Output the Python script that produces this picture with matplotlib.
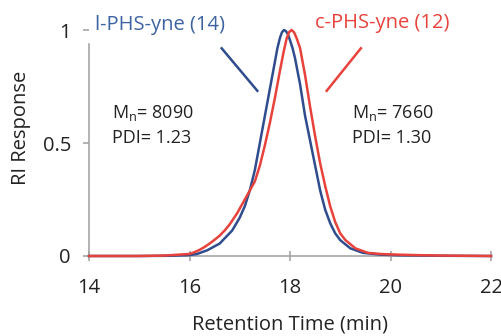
import matplotlib
matplotlib.use('Agg')
import matplotlib.pyplot as plt

plt.rcParams['font.family'] = ['Open Sans', 'DejaVu Sans']
plt.rcParams['mathtext.default'] = 'regular'

# l-PHS-yne (14), blue trace
l_time = [14.0, 15.0, 15.6, 16.0, 16.15, 16.35, 16.6, 16.85, 17.0, 17.1, 17.2, 17.3,
          17.4, 17.5, 17.6, 17.7, 17.75, 17.8, 17.84, 17.88, 17.92, 17.96, 18.0, 18.05,
          18.1, 18.2, 18.3, 18.4, 18.5, 18.6, 18.7, 18.8, 18.9, 19.0, 19.2, 19.45,
          19.8, 20.2, 21.0, 22.0]
l_resp = [0.0, 0.0, 0.001, 0.004, 0.009, 0.025, 0.055, 0.113, 0.17, 0.22, 0.29, 0.38,
          0.50, 0.62, 0.74, 0.86, 0.92, 0.965, 0.99, 1.0, 0.995, 0.98, 0.955, 0.92,
          0.875, 0.76, 0.62, 0.51, 0.40, 0.29, 0.205, 0.145, 0.10, 0.07, 0.034, 0.014,
          0.006, 0.003, 0.001, 0.0]

# c-PHS-yne (12), red trace
c_time = [14.0, 15.0, 15.5, 16.0, 16.1, 16.2, 16.3, 16.4, 16.5, 16.6, 16.7, 16.8,
          16.95, 17.1, 17.2, 17.3, 17.4, 17.5, 17.6, 17.7, 17.8, 17.87, 17.93, 17.98,
          18.03, 18.08, 18.13, 18.2, 18.3, 18.4, 18.5, 18.6, 18.7, 18.8, 18.9, 19.0,
          19.1, 19.3, 19.55, 19.8, 20.0, 20.5, 21.0, 22.0]
c_resp = [0.0, 0.0, 0.002, 0.009, 0.017, 0.027, 0.04, 0.055, 0.072, 0.09, 0.113, 0.14,
          0.19, 0.25, 0.29, 0.33, 0.40, 0.49, 0.59, 0.70, 0.82, 0.90, 0.96, 0.99,
          1.0, 0.99, 0.965, 0.92, 0.80, 0.66, 0.53, 0.41, 0.31, 0.22, 0.15, 0.10,
          0.071, 0.034, 0.014, 0.009, 0.007, 0.004, 0.002, 0.0]

xticks = [14, 16, 18, 20, 22]
yticks = [0, 0.5, 1]
ytick_labels = ['0', '0.5', '1']

blue = '#2f4d8e'
blue_txt = '#3d63a3'
red = '#e8423c'
txt = '#222222'
gray = '#a6a6a6'
fs = 14.5     # axis text and trace names
fs_note = 13  # Mn / PDI notes

fig = plt.figure(figsize=(5.02, 3.36), dpi=100)
ax = fig.add_axes([0.1773, 0.2381, 0.8008, 0.6726])

ax.plot(l_time, l_resp, color=blue, lw=1.8, clip_on=False, zorder=3)
ax.plot(c_time, c_resp, color=red, lw=1.8, clip_on=False, zorder=4)

ax.set_xlim(14, 22)
ax.set_ylim(0, 1)
ax.set_xticks(xticks)
ax.set_yticks(yticks)
ax.set_yticklabels(ytick_labels)

for s in ['top', 'right']:
    ax.spines[s].set_visible(False)
for s in ['left', 'bottom']:
    ax.spines[s].set_color(gray)
    ax.spines[s].set_linewidth(1.2)
ax.spines['left'].set_bounds(0, 0.94)

ax.tick_params(axis='x', direction='inout', length=7, width=1.2, color=gray,
               labelsize=fs, labelcolor=txt, pad=12)
ax.tick_params(axis='y', direction='out', length=4, width=1.2, color=gray,
               labelsize=fs, labelcolor=txt, pad=9)

ax.set_xlabel('Retention Time (min)', fontsize=fs, color=txt, labelpad=12)
ax.set_ylabel('RI Response', fontsize=fs, color=txt)
ax.yaxis.set_label_coords(-0.145, 0.565)

# labels for the traces, with pointer lines
ax.text(14.12, 1.022, 'l-PHS-yne (14)', color=blue_txt, fontsize=fs,
        va='center', ha='left', clip_on=False)
ax.text(18.50, 1.031, 'c-PHS-yne (12)', color=red, fontsize=fs,
        va='center', ha='left', clip_on=False)
ax.plot([16.64, 17.35], [0.919, 0.731], color=blue, lw=1.8)
ax.plot([19.41, 18.73], [0.919, 0.731], color=red, lw=1.8)

ax.text(14.46, 0.633, 'M$_n$= 8090', color=txt, fontsize=fs_note, va='center', ha='left')
ax.text(14.46, 0.522, 'PDI= 1.23', color=txt, fontsize=fs_note, va='center', ha='left')
ax.text(19.23, 0.633, 'M$_n$= 7660', color=txt, fontsize=fs_note, va='center', ha='left')
ax.text(19.23, 0.522, 'PDI= 1.30', color=txt, fontsize=fs_note, va='center', ha='left')

fig.savefig('out.png', dpi=100)
